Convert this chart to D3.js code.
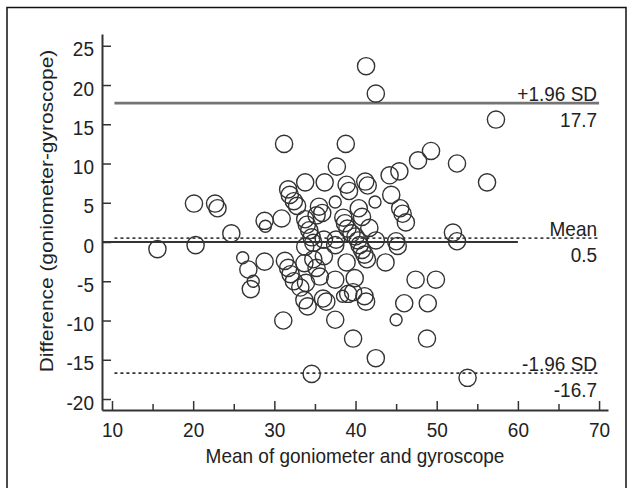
<!DOCTYPE html>
<html><head><meta charset="utf-8">
<script src="https://cdn.jsdelivr.net/npm/d3@7"></script>
<style>
body{margin:0;background:#fff}
text{font-family:"Liberation Sans",Arial,sans-serif;fill:#222}
</style>
</head><body>
<svg id="c" width="633" height="488"></svg>
<script>
// ---- data ----
const meanVals = [
 15.6,20.1,20.3,22.7,23.0,24.7,26.8,27.1,28.8,28.8,31.2,38.8,41.3,42.5,57.3,49.3,47.7,52.5,37.7,45.4,44.2,56.2,44.4,52.0,52.5,
 31.1,37.5,39.7,48.8,42.5,34.6,53.8,47.4,49.9,46.0,48.9,43.7,45.0,45.2,
 31.7,31.9,32.4,32.8,33.8,36.2,38.9,39.2,41.2,41.5,35.5,35.9,35.2,30.9,33.8,34.0,34.3,34.6,34.8,33.8,36.1,37.6,
 40.4,40.8,45.5,45.8,46.2,38.5,38.7,39.0,39.5,40.0,40.3,40.5,40.8,41.1,41.4,41.7,42.5,37.5,
 31.3,31.7,32.0,32.4,33.2,33.9,33.7,34.8,35.2,35.6,36.1,37.5,38.9,39.9,39.1,39.7,41.1,41.3,33.7,34.1,36.0,36.4
];
const diffVals = [
 -0.9,4.9,-0.4,4.9,4.3,1.1,-3.5,-6.0,2.7,-2.5,12.5,12.5,22.4,18.9,15.6,11.6,10.4,10.0,9.6,9.0,8.5,7.6,6.0,1.2,0.1,
 -10.0,-9.9,-12.3,-12.3,-14.8,-16.8,-17.3,-4.8,-4.8,-7.8,-7.8,-2.6,0.1,-0.5,
 6.7,6.0,5.2,4.6,7.6,7.6,7.3,6.5,7.7,7.2,4.5,3.7,3.4,3.0,2.9,2.2,1.5,0.6,-0.1,-0.6,0.3,0.3,
 4.3,3.2,4.3,3.6,2.5,3.1,2.4,1.7,1.1,0.7,0.2,-0.4,-1.0,-1.6,-2.2,1.8,0.2,-0.4,
 -2.4,-3.3,-4.1,-5.0,-5.8,-5.2,-2.7,-2.2,-3.3,-4.4,-1.8,-4.8,-2.6,-4.6,-6.6,-6.4,-6.9,-7.6,-7.4,-8.2,-7.2,-7.6
];
const smallMean = [37.5,42.4,28.9,26.1,27.4,38.4,45.0];
const smallDiff = [5.1,5.1,2.0,-2.0,-5.0,-6.9,-9.9];

const xTicks = [10,20,30,40,50,60,70];
const xMinorTicks = [15,25,35,45,55,65];
const yTicks = [25,20,15,10,5,0,-5,-10,-15,-20];

const limitNames  = ["+1.96 SD","Mean","-1.96 SD"];
const limitValues = [17.7,0.5,-16.7];
const limitText   = ["17.7","0.5","-16.7"];

const xTitle = "Mean of goniometer and gyroscope";
const yTitle = "Difference (goniometer-gyroscope)";

// ---- drawing ----
const svg = d3.select("#c");
const x = d3.scaleLinear().domain([8.77, 71.1]).range([102, 608]);
const y = d3.scaleLinear().domain([-21.4, 26.5]).range([410, 34]);
const SY = 1.1;
const ink = "#333";
const fmt = d => String(d);

// frame
svg.append("rect").attr("x",7).attr("y",7.5).attr("width",619).attr("height",500)
  .attr("fill","none").attr("stroke","#111").attr("stroke-width",1.5);

// limit / reference lines
const lineStyles = [
  {stroke:"#747474", w:2.6, dash:null},
  {stroke:"#444", w:1.6, dash:"3,3"},
  {stroke:"#333", w:1.8, dash:"3,3"}
];
limitValues.forEach((v,i)=>{
  const st = lineStyles[i];
  svg.append("line").attr("x1",x(10.3)).attr("x2",x(70)).attr("y1",y(v)).attr("y2",y(v))
    .attr("stroke",st.stroke).attr("stroke-width",st.w).attr("stroke-dasharray",st.dash);
  svg.append("text").attr("text-anchor","end").style("font-size","19px")
    .attr("transform",`translate(${x(70)-2},${y(v)-2.5}) scale(1,${SY})`).text(limitNames[i]);
  svg.append("text").attr("text-anchor","end").style("font-size","19px")
    .attr("transform",`translate(${x(70)-2},${y(v)+24}) scale(1,${SY})`).text(limitText[i]);
});
// zero line
svg.append("line").attr("x1",x.range()[0]).attr("x2",x(60)).attr("y1",y(0)).attr("y2",y(0))
  .attr("stroke","#333").attr("stroke-width",2);

// points
const g = svg.append("g").attr("fill","none").attr("stroke",ink).attr("stroke-width",1.4);
g.selectAll("circle.n").data(d3.zip(meanVals,diffVals)).join("circle").attr("class","n")
  .attr("cx",d=>x(d[0])).attr("cy",d=>y(d[1])).attr("r",8.6);
g.selectAll("circle.s").data(d3.zip(smallMean,smallDiff)).join("circle").attr("class","s")
  .attr("cx",d=>x(d[0])).attr("cy",d=>y(d[1])).attr("r",6);

// x axis
const gx = svg.append("g").attr("transform",`translate(0,${y.range()[0]})`);
gx.call(d3.axisBottom(x).tickValues(xTicks).tickSizeInner(-9).tickSizeOuter(0).tickFormat(fmt));
const gxm = svg.append("g").attr("transform",`translate(0,${y.range()[0]})`);
gxm.call(d3.axisBottom(x).tickValues(xMinorTicks).tickSizeInner(-6).tickSizeOuter(0).tickFormat(""));
gxm.select(".domain").remove();
gx.selectAll("text").attr("y",0).attr("dy",null).style("font-size","19px")
  .attr("transform",`translate(0,26.5) scale(1,${SY})`).attr("fill","#222");

// y axis
const gy = svg.append("g").attr("transform",`translate(${x.range()[0]},0)`);
gy.call(d3.axisLeft(y).tickValues(yTicks).tickSizeInner(-9).tickSizeOuter(0).tickFormat(fmt));
gy.selectAll("text").attr("x",0).attr("dy",null).style("font-size","19px")
  .attr("transform",`translate(-8,10) scale(1,${SY})`).attr("fill","#222");

[gx,gxm,gy].forEach(a=>{
  a.selectAll("path,line").attr("stroke","#333");
  a.select(".domain").attr("stroke-width",2);
  a.selectAll(".tick line").attr("stroke-width",1.5);
});

// titles
svg.append("text").attr("text-anchor","middle").style("font-size","19px")
  .attr("transform",`translate(355,463) scale(1,${SY})`).text(xTitle);
svg.append("text").attr("text-anchor","middle").style("font-size","19px")
  .attr("transform",`translate(53,211) rotate(-90) scale(${SY},1)`).text(yTitle);
</script>
</body></html>
